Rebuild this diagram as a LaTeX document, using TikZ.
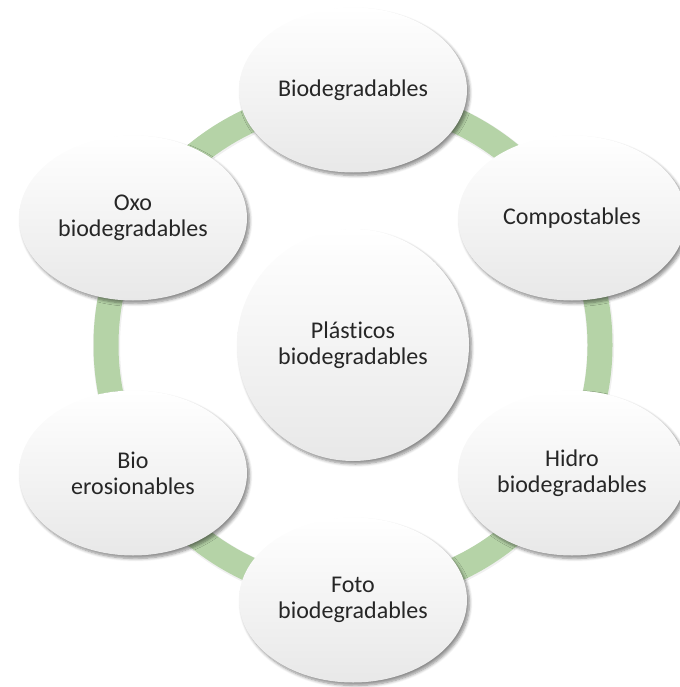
\documentclass[tikz,border=0pt]{standalone}
\usepackage{fontspec}
\setmainfont{Carlito}[Ligatures=NoCommon]
\usetikzlibrary{shapes.geometric,shadows.blur}
\definecolor{ringgreen}{RGB}{181,211,167}
\definecolor{txt}{RGB}{38,38,38}
\tikzset{
  bubble/.style={ellipse, minimum width=228pt, minimum height=165pt, inner sep=0pt,
    top color=white, bottom color=black!9, shading angle=0,
    blur shadow={shadow xshift=2.5pt, shadow yshift=-3pt, shadow blur steps=6, shadow blur radius=3pt, shadow opacity=45},
    align=center, text=txt, font=\fontsize{24}{26}\selectfont},
  hub/.style={bubble, circle, minimum size=232pt},
  ringline/.style={draw=ringgreen, line width=25pt},
  ringshade/.style={draw=black!30, line width=27pt, opacity=0.2}
}
\begin{document}
\begin{tikzpicture}[x=1pt,y=-1pt]
\useasboundingbox (0,0) rectangle (679,687);
\coordinate (c) at (353,345);
\draw[ringshade] ([xshift=0.5pt,yshift=-1pt]c) circle[radius=247];
\draw[ringline] (c) circle[radius=247];
\node[bubble] (top) at (353,90) {Biodegradables};
\node[bubble] (comp) at (572,218) {Compostables};
\node[bubble] (hidro) at (572,473) {Hidro\\biodegradables};
\node[bubble] (foto) at (353,600) {Foto\\biodegradables};
\node[bubble] (bioe) at (133,473) {Bio\\erosionables};
\node[bubble] (oxo) at (133,218) {Oxo\\biodegradables};
\node[hub] (center) at (c) {Plásticos\\biodegradables};
\end{tikzpicture}
\end{document}
